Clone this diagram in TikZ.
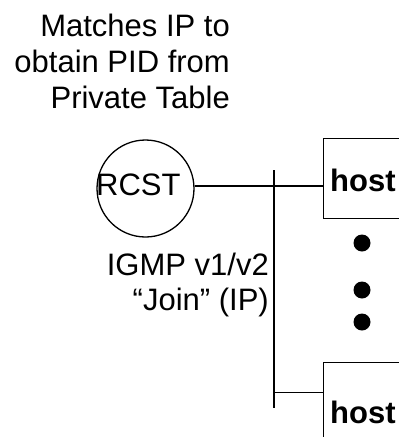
\documentclass[tikz,border=0pt]{standalone}
\usepackage{fontspec}
\setmainfont{Liberation Sans}
\begin{document}
\begin{tikzpicture}[x=1pt,y=-1pt,
  txt/.style={font=\fontsize{31}{36}\selectfont, inner sep=0pt},
  hostlabel/.style={font=\fontsize{31}{36}\selectfont\bfseries, inner sep=0pt, anchor=base west},
  hostbox/.style={draw, line width=1.4pt, minimum width=110pt, minimum height=80pt, anchor=north west, inner sep=0pt},
  wire/.style={line width=1.4pt},
  dot/.style={circle, fill=black, minimum size=17pt, inner sep=0pt}]
\useasboundingbox (0,0) rectangle (399,437);
\clip (0,0) rectangle (399,437);
% top annotation
\node[txt, anchor=base east] (t1) at (230,36) {Matches IP to};
\node[txt, anchor=base east] (t2) at (230,72) {obtain PID from};
\node[txt, anchor=base east] (t3) at (230,108) {Private Table};
% RCST
\node[circle, draw, line width=1.3pt, minimum size=97pt, inner sep=0pt] (rcst) at (145.5,188.5) {};
\node[txt, anchor=base west] (rcstlabel) at (96,195) {RCST};
% hosts
\node[hostbox] (h1) at (323,138) {};
\node[hostlabel] (h1label) at (330,191) {host};
\node[hostbox] (h2) at (322.5,362) {};
\node[hostlabel] (h2label) at (330,423) {host};
% bus
\coordinate (bustop) at (274,170);
\coordinate (busbot) at (274,408);
\coordinate (j2) at (274,392.5);
\draw[wire] (bustop) -- (busbot);
\draw[wire] (rcst.3.5) -- (rcst.3.5 -| h1.west);
\draw[wire] (j2) -- (j2 -| h2.west);
% dots
\node[dot] (d1) at (362,243) {};
\node[dot] (d2) at (362,290) {};
\node[dot] (d3) at (362,322) {};
% IGMP label
\node[txt, anchor=base east] (g1) at (269,275) {IGMP v1/v2};
\node[txt, anchor=base east] (g2) at (269,310) {“Join” (IP)};
\end{tikzpicture}
\end{document}
